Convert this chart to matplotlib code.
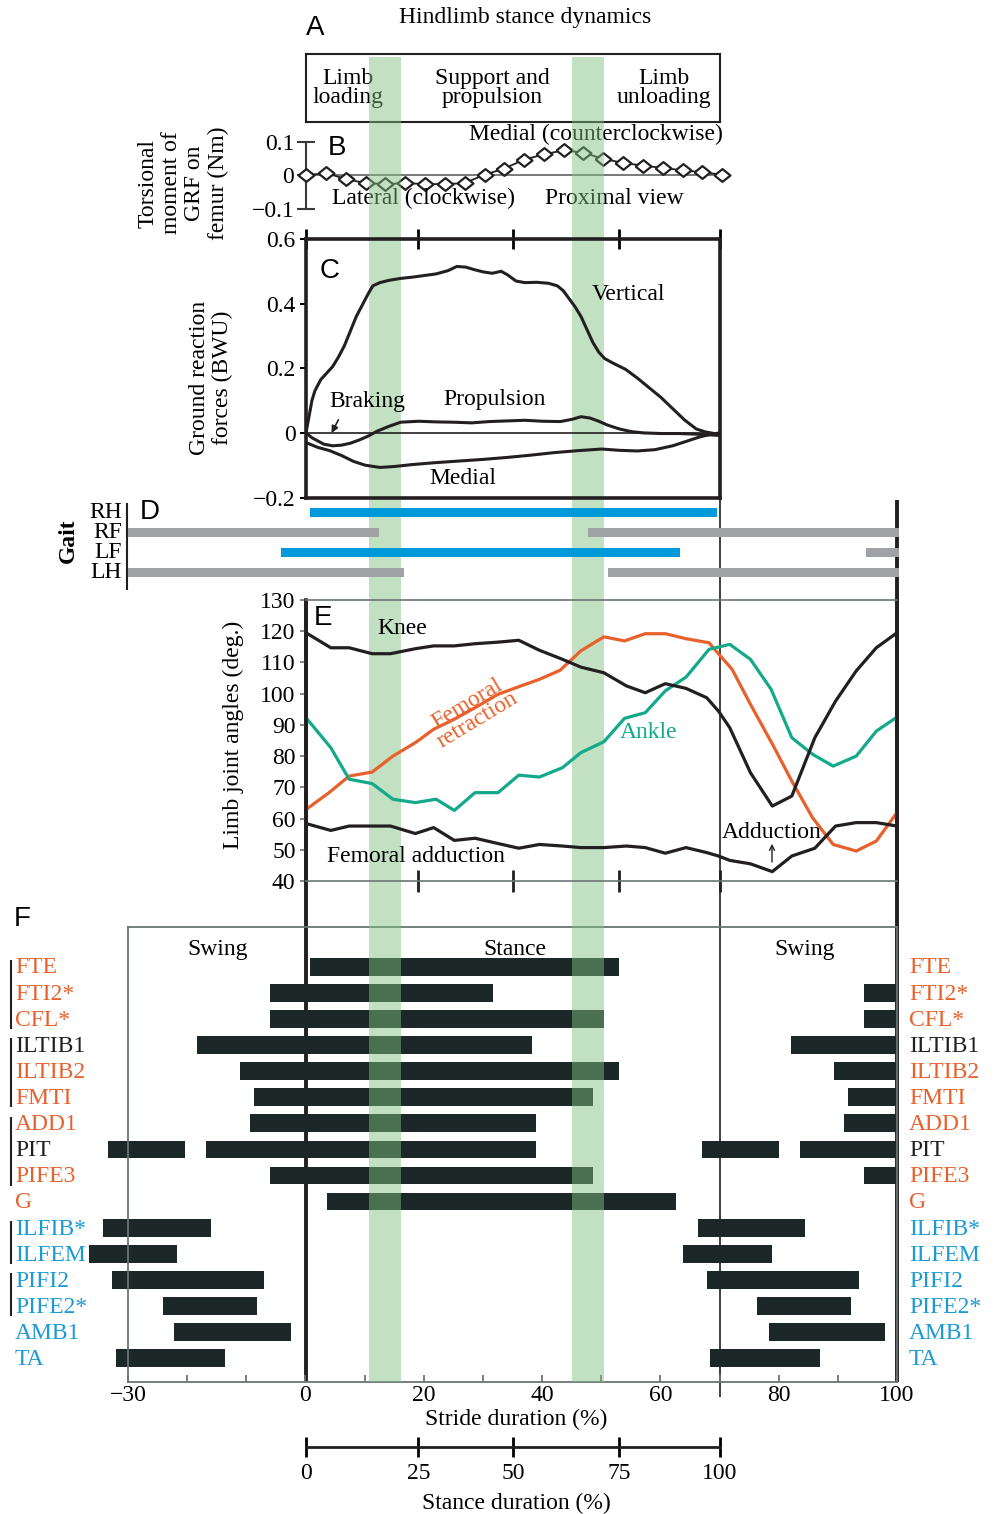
import matplotlib
matplotlib.use("Agg")
import matplotlib.pyplot as plt
from matplotlib.transforms import blended_transform_factory as blend

plt.rcParams["font.family"] = ["Liberation Serif", "DejaVu Serif"]
plt.rcParams["font.size"] = 17

# ---------------- data (x values in % of stride) ----------------
# stance-duration ticks (0..100 % stance) sit at these stride positions
stance_tick_pos = [0, 19, 35, 53, 70]
stance_tick_lab = ["0", "25", "50", "75", "100"]

# green highlight bands
band_start = [10.8, 45.1]
band_end = [16.2, 50.5]

# A: phases of stance
phase_x = [7.1, 31.5, 60.6]
phase_lab = ["Limb\nloading", "Support and\npropulsion", "Limb\nunloading"]

# B: torsional moment of GRF on femur (Nm)
torsion_x = [0, 3.4, 6.7, 10.1, 13.4, 16.8, 20.1, 23.5, 26.8, 30.2, 33.5,
             36.9, 40.2, 43.6, 46.9, 50.3, 53.6, 57.0, 60.3, 63.7, 67.0, 70.4]
torsion_y = [0.0, 0.007, -0.011, -0.023, -0.026, -0.023, -0.026, -0.026, -0.023, 0.002, 0.02,
             0.047, 0.062, 0.075, 0.067, 0.049, 0.037, 0.029, 0.022, 0.015, 0.009, 0.002]

# C: ground reaction forces (BWU)
vert_x = [0, 0.5, 1.0, 1.5, 2.5, 3.5, 4.5, 5.5, 6.5, 7.5, 8.5, 9.5, 10.5, 11.3, 12.5, 14, 16,
          18, 20, 22, 24, 25.5, 27, 28.5, 30, 31.5, 33, 34, 35.5, 37, 39, 41, 42.5, 43.5,
          44.5, 45.5, 46.5, 47.5, 48.5, 49.5, 50.5, 52, 54, 56, 58, 60, 62, 64, 66, 67.5, 69, 70]
vert_y = [0.0, 0.05, 0.10, 0.13, 0.165, 0.185, 0.205, 0.235, 0.27, 0.315, 0.36, 0.395, 0.43,
          0.455, 0.465, 0.472, 0.478, 0.482, 0.487, 0.492, 0.502, 0.515, 0.513, 0.505, 0.498,
          0.494, 0.50, 0.49, 0.47, 0.465, 0.466, 0.463, 0.455, 0.44, 0.415, 0.39, 0.36, 0.32,
          0.28, 0.25, 0.23, 0.215, 0.197, 0.17, 0.14, 0.11, 0.075, 0.04, 0.012, 0.003, -0.002,
          -0.006]
prop_x = [0, 1, 2, 3, 4.5, 6, 7.5, 9, 10.5, 12, 14, 16, 19, 22, 25, 28, 31, 34, 37, 40, 43,
          45, 46.5, 48, 49.5, 51, 53, 55, 57, 60, 63, 66, 68, 70]
prop_y = [0.0, -0.015, -0.025, -0.035, -0.04, -0.038, -0.032, -0.022, -0.01, 0.005, 0.02,
          0.033, 0.036, 0.034, 0.033, 0.031, 0.035, 0.037, 0.039, 0.036, 0.035, 0.042, 0.05,
          0.046, 0.036, 0.024, 0.012, 0.004, 0.0, -0.002, -0.002, -0.004, -0.006, -0.008]
med_x = [0, 2, 4, 6, 8, 10, 12.5, 15, 18, 22, 26, 30, 34, 38, 42, 46, 50, 53, 56, 59, 62, 64,
         66.5, 68.5, 70]
med_y = [-0.03, -0.045, -0.055, -0.07, -0.088, -0.1, -0.107, -0.104, -0.098, -0.092, -0.087,
         -0.082, -0.076, -0.069, -0.061, -0.055, -0.05, -0.054, -0.056, -0.052, -0.04, -0.028,
         -0.013, -0.004, 0.0]

# D: gait (footfall) bars
gait_feet = ["RH", "RF", "LF", "LH"]
gait_row = [0, 1, 1, 2, 2, 3, 3]
gait_on = [0.8, -30, 47.7, -4.1, 94.7, -30, 51.1]
gait_off = [69.6, 12.4, 100.3, 63.4, 100.3, 16.7, 100.3]
gait_is_hind_stance = [True, False, False, True, False, False, False]

# E: limb joint angles (deg.)
knee_x = [0, 4.2, 7.3, 11.2, 14.3, 18.5, 21.6, 25.1, 28.6, 32.5, 36.0, 39.5, 43.4, 46.5, 50.4,
          54.2, 57.4, 60.8, 64.3, 67.8, 69.8, 71.7, 75.2, 78.9, 82.2, 86.1, 89.6, 93.1, 96.5, 100]
knee_y = [119.5, 114.7, 114.7, 112.8, 112.8, 114.4, 115.3, 115.3, 116.0, 116.5, 117.1, 113.9,
          111.0, 108.5, 106.7, 102.5, 100.3, 103.2, 101.7, 98.7, 94.4, 89.1, 74.7, 64.0, 67.2,
          85.9, 97.6, 107.3, 114.7, 119.5]
retr_x = [0, 3.9, 7.3, 11.2, 14.7, 18.5, 21.6, 25.1, 28.6, 32.5, 36.4, 39.5, 43.0, 46.5, 50.4,
          53.9, 57.4, 60.8, 64.3, 68.2, 70.1, 72.1, 75.2, 79.1, 82.2, 85.7, 89.2, 93.1, 96.5, 100]
retr_y = [62.9, 68.3, 73.6, 74.9, 80.0, 84.3, 88.6, 91.8, 95.5, 99.8, 102.5, 104.6, 107.5,
          113.7, 118.2, 116.9, 119.2, 119.2, 117.6, 116.3, 112.1, 107.8, 96.6, 83.2, 72.0,
          60.3, 51.7, 49.6, 52.8, 61.9]
ankle_x = [0, 4.2, 7.3, 11.2, 14.7, 18.5, 22.0, 25.1, 28.6, 32.5, 36.0, 39.5, 43.4, 46.5, 50.4,
           53.9, 57.4, 60.8, 64.3, 68.2, 71.7, 75.2, 78.7, 82.2, 85.7, 89.2, 93.1, 96.5, 100]
ankle_y = [92.3, 82.7, 72.6, 71.2, 66.2, 65.1, 66.2, 62.6, 68.3, 68.3, 73.9, 73.3, 76.3, 81.1,
           84.6, 92.1, 93.9, 100.9, 105.3, 114.2, 115.8, 111.0, 101.4, 85.9, 80.6, 76.8, 80.0,
           88.0, 92.5]
add_x = [0, 4.2, 7.3, 11.2, 14.3, 18.5, 21.6, 25.1, 28.6, 32.5, 36.0, 39.5, 43.4, 46.5, 50.4,
         54.2, 57.4, 60.8, 64.3, 67.8, 69.8, 71.7, 75.2, 78.9, 82.2, 86.1, 89.6, 93.1, 96.5, 100]
add_y = [58.4, 56.2, 57.6, 57.6, 57.6, 55.2, 57.1, 53.0, 53.7, 52.0, 50.5, 51.7, 51.2, 50.7,
         50.7, 51.2, 50.7, 48.9, 50.7, 49.1, 48.0, 46.6, 45.5, 43.0, 48.0, 50.5, 57.6, 58.7,
         58.7, 57.6]

# F: EMG bursts
muscles = ["FTE", "FTI2*", "CFL*", "ILTIB1", "ILTIB2", "FMTI", "ADD1", "PIT", "PIFE3", "G",
           "ILFIB*", "ILFEM", "PIFI2", "PIFE2*", "AMB1", "TA"]
muscle_group = ["o", "o", "o", "k", "o", "o", "o", "k", "o", "o",
                "b", "b", "b", "b", "b", "b"]
bursts = [
    [(0.7, 53.0)],
    [(-6.0, 31.7), (94.5, 100)],
    [(-6.0, 50.4), (94.5, 100)],
    [(-18.3, 38.3), (82.1, 100)],
    [(-11.1, 53.0), (89.3, 100)],
    [(-8.7, 48.6), (91.7, 100)],
    [(-9.4, 38.9), (91.1, 100)],
    [(-33.3, -20.4), (-16.8, 38.9), (67.1, 80.0), (83.6, 100)],
    [(-6.0, 48.6), (94.5, 100)],
    [(3.6, 62.6)],
    [(-34.2, -16.0), (66.3, 84.5)],
    [(-36.6, -21.7), (63.8, 78.8)],
    [(-32.7, -7.0), (67.8, 93.5)],
    [(-24.1, -8.2), (76.4, 92.3)],
    [(-22.2, -2.5), (78.3, 98.0)],
    [(-32.1, -13.6), (68.4, 86.9)],
]
bracket_first = [0, 3, 6, 10, 12]
bracket_last = [2, 5, 8, 11, 13]
stride_major = [-30, 0, 20, 40, 60, 80, 100]
stride_minor = [-20, -10, 10, 30, 50, 70, 90]

# ---------------- styling ----------------
W, H = 998, 1514
INK = "#231f20"
AXGRAY = "#6b7474"
ORANGE = "#e8612c"
TEAL = "#13a98a"
BLUE_TXT = "#1b9ad6"
GAIT_BLUE = "#009ada"
GAIT_GRAY = "#a1a2a6"
BAR = "#1c2828"
SANS = "Liberation Sans"
group_color = {"o": ORANGE, "k": INK, "b": BLUE_TXT}

fig = plt.figure(figsize=(W / 100, H / 100), dpi=100)
fig.patch.set_facecolor("white")


def box(x0, y0, x1, y1, z):
    ax = fig.add_axes([x0 / W, 1 - y1 / H, (x1 - x0) / W, (y1 - y0) / H], zorder=z)
    ax.set_facecolor("none")
    return ax


def put(ax, x, y, s, **kw):
    # text placed by pixel position (origin top-left)
    kw.setdefault("ha", "center")
    kw.setdefault("va", "center")
    return ax.text(x / W, 1 - y / H, s, transform=fig.transFigure, **kw)


def rule(ax, xs, ys, **kw):
    ax.plot([x / W for x in xs], [1 - y / H for y in ys], transform=fig.transFigure,
            clip_on=False, solid_capstyle="butt", **kw)


# frame lines that run across several panels
fr = box(0, 0, W, H, 0)
fr.axis("off")
rule(fr, [897, 897], [500, 1382], color=INK, lw=2.8)
rule(fr, [306, 306], [599, 1382], color=INK, lw=2.8)
rule(fr, [720, 720], [497, 1397], color=INK, lw=1.2)
rule(fr, [127, 127], [503, 590], color=INK, lw=1.5)

# title and panel letters
put(fig, 525, 18, "Hindlimb stance dynamics")
for lab, (px, py) in zip("ABCDEF", [(315, 28), (337, 148), (330, 271), (150, 512),
                                    (323, 618), (22, 919)]):
    put(fig, px, py, lab, family=SANS, fontsize=20)

# ---- A ----
axA = box(306, 54, 720, 122, 0.1)
axA.set_xlim(0, 70)
axA.set_ylim(0, 1)
axA.set_xticks([])
axA.set_yticks([])
for sp in axA.spines.values():
    sp.set_linewidth(1.5)
    sp.set_color(INK)
for px, lab in zip(phase_x, phase_lab):
    axA.text(px, 0.5, lab, ha="center", va="center", linespacing=0.88)

# ---- B ----
axB = box(306, 130, 720, 220, 0.1)
axB.set_xlim(0, 70)
axB.set_ylim(-0.1327, 0.1348)
for s in ["top", "right", "bottom"]:
    axB.spines[s].set_visible(False)
axB.spines["left"].set_bounds(-0.1, 0.1)
axB.spines["left"].set_linewidth(1.5)
axB.spines["left"].set_color("#3a3a3a")
axB.set_xticks([])
axB.set_yticks([-0.1, 0, 0.1], ["\u22120.1", "0", "0.1"])
axB.tick_params(axis="y", direction="inout", length=13, width=1.5, pad=2, color="#3a3a3a")
axB.axhline(0, color="#6d6e71", lw=1.3, zorder=1)
axB.plot(torsion_x, torsion_y, color=INK, lw=1.3,
         marker=[(-1, 0), (0, 0.8), (1, 0), (0, -0.8), (-1, 0)],
         ms=11.5, mfc="white", mec=INK, mew=1.6, clip_on=False, zorder=3)
put(axB, 596, 134, "Medial (counterclockwise)")
put(axB, 423, 198, "Lateral (clockwise)")
put(axB, 614, 198, "Proximal view")
put(fig, 183, 183, "Torsional\nmoment of\nGRF on\nfemur (Nm)", rotation=90, linespacing=1.15)

# ---- C ----
axC = box(306, 239, 720, 497.5, 1)
axC.set_xlim(0, 70)
axC.set_ylim(-0.2, 0.6)
for sp in axC.spines.values():
    sp.set_linewidth(2.6)
    sp.set_color(INK)
axC.set_yticks([-0.2, 0, 0.2, 0.4, 0.6], ["\u22120.2", "0", "0.2", "0.4", "0.6"])
axC.tick_params(axis="y", direction="out", length=4.5, width=1.5, pad=3)
axC.set_xticks(stance_tick_pos)
axC.tick_params(axis="x", top=True, bottom=False, labelbottom=False, direction="inout",
                length=14, width=2)
axC.axhline(0, color=INK, lw=1.2)
for xs, ys in [(vert_x, vert_y), (prop_x, prop_y), (med_x, med_y)]:
    axC.plot(xs, ys, color=INK, lw=2.2, solid_joinstyle="miter")
put(axC, 628, 294, "Vertical")
put(axC, 367, 401, "Braking")
put(axC, 495, 400, "Propulsion")
put(axC, 463, 479, "Medial")
axC.annotate("", xy=(4.1, -0.008), xytext=(5.7, 0.048),
             arrowprops=dict(arrowstyle="-|>", color=INK, lw=1.2, mutation_scale=10))
put(fig, 211, 378, "Ground reaction\nforces (BWU)", rotation=90, linespacing=1.15)

# ---- D ----
axD = box(128, 502, 897, 584, 1)
axD.set_xlim(-30, 100)
axD.set_ylim(3.565, -0.535)
axD.axis("off")
for r, a, b, hind in zip(gait_row, gait_on, gait_off, gait_is_hind_stance):
    axD.barh(r, b - a, left=a, height=0.45, color=GAIT_BLUE if hind else GAIT_GRAY,
             lw=0, clip_on=False)
tD = blend(fig.transFigure, axD.transData)
for r, f in enumerate(gait_feet):
    axD.text(122 / W, r, f, transform=tD, ha="right", va="center")
put(fig, 68, 541, "Gait", rotation=90, fontweight="bold")

# ---- E ----
axE = box(306, 600, 897, 881, 1)
axE.set_xlim(0, 100)
axE.set_ylim(40, 130)
for s in ["left", "right"]:
    axE.spines[s].set_linewidth(2.6)
    axE.spines[s].set_color(INK)
for s in ["top", "bottom"]:
    axE.spines[s].set_linewidth(1.2)
    axE.spines[s].set_color(AXGRAY)
axE.set_yticks(range(40, 131, 10))
axE.tick_params(axis="y", direction="out", length=4.5, width=1.2, pad=3, color=AXGRAY)
axE.set_xticks(stance_tick_pos[1:])
axE.tick_params(axis="x", direction="inout", length=16, width=2, color=INK, labelbottom=False)
axE.plot(retr_x, retr_y, color=ORANGE, lw=2.3)
axE.plot(ankle_x, ankle_y, color=TEAL, lw=2.3)
axE.plot(knee_x, knee_y, color=INK, lw=2.3)
axE.plot(add_x, add_y, color=INK, lw=2.3)
put(axE, 402, 629, "Knee")
put(axE, 472, 712, "Femoral\nretraction", color=ORANGE, rotation=31, linespacing=0.9)
put(axE, 649, 732, "Ankle", color=TEAL)
put(axE, 772, 832, "Adduction")
put(axE, 416, 857, "Femoral adduction")
axE.annotate("", xy=(78.85, 52.8), xytext=(78.85, 45.2),
             arrowprops=dict(arrowstyle="->", color=INK, lw=1.0, mutation_scale=9))
put(fig, 233, 735, "Limb joint angles (deg.)", rotation=90)

# ---- F ----
axF = box(128, 927, 897, 1382, 0.1)
axF.set_xlim(-30, 100)
axF.set_ylim(15.91, -1.52)
for sp in axF.spines.values():
    sp.set_linewidth(1.3)
    sp.set_color(AXGRAY)
axF.set_yticks([])
axF.set_xticks(stride_major, ["\u221230" if v == -30 else str(v) for v in stride_major])
axF.set_xticks(stride_minor, minor=True)
axF.tick_params(axis="x", which="both", direction="in", length=5, width=1.3, color=AXGRAY,
                pad=2)
for row, segs in enumerate(bursts):
    for a, b in segs:
        axF.barh(row, b - a, left=a, height=0.68, color=BAR, lw=0, clip_on=False)
tF = blend(fig.transFigure, axF.transData)
for row, (m, g) in enumerate(zip(muscles, muscle_group)):
    axF.text(15 / W, row + 0.05, m, transform=tF, ha="left", va="center", color=group_color[g])
    axF.text(909 / W, row + 0.05, m, transform=tF, ha="left", va="center", color=group_color[g])
for a, b in zip(bracket_first, bracket_last):
    axF.plot([11 / W, 11 / W], [a - 0.22, b + 0.35], transform=tF, color=INK, lw=1.5,
             clip_on=False)
put(axF, 218, 950, "Swing")
put(axF, 515, 950, "Stance")
put(axF, 805, 950, "Swing")
put(fig, 516, 1419, "Stride duration (%)")

# ---- stance-duration scale ----
axS = box(306, 1400, 720, 1447, 0.1)
axS.set_xlim(0, 70)
for s in ["top", "right", "left"]:
    axS.spines[s].set_visible(False)
axS.spines["bottom"].set_linewidth(2)
axS.spines["bottom"].set_color(INK)
axS.set_yticks([])
axS.set_xticks(stance_tick_pos, stance_tick_lab)
axS.tick_params(axis="x", direction="inout", length=15, width=2, pad=4)
put(fig, 516, 1503, "Stance duration (%)")

# ---- green highlight bands (drawn over A, B, F; under C, D, E) ----
axG = box(128, 57, 897, 1382, 0.5)
axG.set_xlim(-30, 100)
axG.axis("off")
for a, b in zip(band_start, band_end):
    axG.axvspan(a, b, color=(127 / 255, 190 / 255, 127 / 255), alpha=0.476, lw=0)

fig.savefig("out.png", dpi=100)
